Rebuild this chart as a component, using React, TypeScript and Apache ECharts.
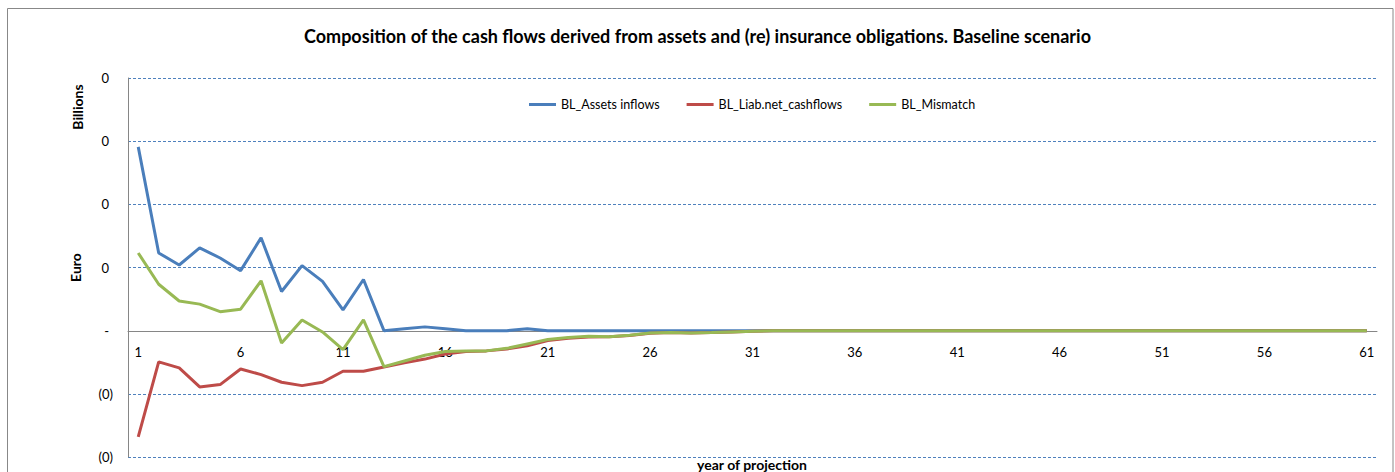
import React, { useEffect, useRef } from "react";
import * as echarts from "echarts";

const years: string[] = Array.from({ length: 61 }, (_, i) => String(i + 1));

const assetsInflows: number[] = [
  0.291, 0.123, 0.104, 0.131, 0.115, 0.095, 0.147, 0.062, 0.103, 0.078,
  0.033, 0.081, 0.0, 0.003, 0.006, 0.003, 0.0, 0.0, 0.0, 0.003,
  0.0, 0.0, 0.0, 0.0, 0.0, 0.0, 0.0, 0.0, 0.0, 0.0,
  0.0, 0.0, 0.0, 0.0, 0.0, 0.0, 0.0, 0.0, 0.0, 0.0,
  0.0, 0.0, 0.0, 0.0, 0.0, 0.0, 0.0, 0.0, 0.0, 0.0,
  0.0, 0.0, 0.0, 0.0, 0.0, 0.0, 0.0, 0.0, 0.0, 0.0,
  0.0,
];

const liabNetCashflows: number[] = [
  -0.168, -0.0495, -0.059, -0.089, -0.0854, -0.0606, -0.0696, -0.0817, -0.087, -0.0817,
  -0.0643, -0.0643, -0.0574, -0.051, -0.045, -0.037, -0.033, -0.032, -0.029, -0.024,
  -0.0155, -0.012, -0.01, -0.0095, -0.0075, -0.004, -0.003, -0.0035, -0.003, -0.002,
  -0.001, 0.0, 0.0, 0.0, 0.0, 0.0, 0.0, 0.0, 0.0, 0.0,
  0.0, 0.0, 0.0, 0.0, 0.0, 0.0, 0.0, 0.0, 0.0, 0.0,
  0.0, 0.0, 0.0, 0.0, 0.0, 0.0, 0.0, 0.0, 0.0, 0.0,
  0.0,
];

const mismatch: number[] = [
  0.123, 0.0735, 0.047, 0.042, 0.030, 0.034, 0.079, -0.0195, 0.017, -0.002,
  -0.030, 0.017, -0.057, -0.048, -0.039, -0.033, -0.032, -0.032, -0.028, -0.021,
  -0.014, -0.011, -0.009, -0.0095, -0.0074, -0.0037, -0.003, -0.0035, -0.003, -0.002,
  -0.001, 0.0, 0.0, 0.0, 0.0, 0.0, 0.0, 0.0, 0.0, 0.0,
  0.0, 0.0, 0.0, 0.0, 0.0, 0.0, 0.0, 0.0, 0.0, 0.0,
  0.0, 0.0, 0.0, 0.0, 0.0, 0.0, 0.0, 0.0, 0.0, 0.0,
  0.0,
];

const seriesNames: string[] = ["BL_Assets inflows", "BL_Liab.net_cashflows", "BL_Mismatch"];
const seriesColors: string[] = ["#4A7EBB", "#BE4B48", "#98B954"];

const FONT = "Lato, 'Open Sans', sans-serif";
const GRID_BLUE = "#4F81BD";

export default function App() {
  const ref = useRef<HTMLDivElement>(null);

  useEffect(() => {
    if (!ref.current) return;
    const chart = echarts.init(ref.current, undefined, { renderer: "svg" });
    const dataSets = [assetsInflows, liabNetCashflows, mismatch];
    chart.setOption({
      animation: false,
      backgroundColor: "#ffffff",
      textStyle: { fontFamily: FONT },
      title: {
        text: "Composition of the cash flows derived from assets and (re) insurance obligations. Baseline scenario",
        left: "center",
        top: 22,
        textStyle: { fontFamily: FONT, fontSize: 18, fontWeight: "bold", color: "#000" },
      },
      legend: {
        left: 524,
        top: 93,
        itemGap: 27,
        itemWidth: 27,
        itemHeight: 3,
        icon: "rect",
        textStyle: { fontFamily: FONT, fontSize: 12.5, color: "#000" },
        data: seriesNames,
      },
      grid: {
        left: 128,
        right: 18,
        top: 78,
        bottom: 15,
        containLabel: false,
        outerBoundsMode: "none",
      },
      xAxis: {
        type: "category",
        data: years,
        boundaryGap: true,
        position: "bottom",
        offset: -126,
        z: 1,
        axisLine: { onZero: false, lineStyle: { color: "#868686", width: 1 } },
        axisTick: { show: false },
        axisLabel: { interval: 4, margin: 14, fontSize: 13, color: "#000", fontFamily: FONT },
      },
      yAxis: {
        type: "value",
        min: -0.2,
        max: 0.4,
        interval: 0.1,
        name: "Euro",
        nameLocation: "middle",
        nameGap: 46,
        nameRotate: 90,
        nameTextStyle: { fontFamily: FONT, fontSize: 14, fontWeight: "bold", color: "#000" },
        axisLine: { show: true, lineStyle: { color: "#868686", width: 1 } },
        axisTick: { show: false },
        splitLine: {
          show: true,
          lineStyle: {
            color: [GRID_BLUE, GRID_BLUE, "rgba(0,0,0,0)", GRID_BLUE, GRID_BLUE, GRID_BLUE, GRID_BLUE],
            type: [3, 2],
            width: 1,
          },
        },
        axisLabel: {
          margin: 15,
          fontSize: 13,
          color: "#000",
          fontFamily: FONT,
          formatter: (v: number) => {
            if (Math.abs(v) < 1e-9) return "{p|-}";
            if (v < 0) return "(0)";
            return "{p|0}";
          },
          rich: {
            p: { fontSize: 13, color: "#000", fontFamily: FONT, padding: [0, 4, 0, 0] },
          },
        },
      },
      graphic: [
        {
          type: "rect",
          shape: { x: 7.5, y: 8.5, width: 1385.5, height: 480 },
          style: { fill: "none", stroke: "#888888", lineWidth: 1 },
          silent: true,
        },
        {
          type: "text",
          x: 77,
          y: 107,
          rotation: Math.PI / 2,
          style: {
            text: "Billions",
            fontFamily: FONT,
            fontSize: 14,
            fontWeight: "bold",
            fill: "#000",
            align: "center",
            verticalAlign: "middle",
          },
        },
        {
          type: "text",
          x: 752,
          y: 464,
          style: {
            text: "year of projection",
            fontFamily: FONT,
            fontSize: 14,
            fontWeight: "bold",
            fill: "#000",
            align: "center",
            verticalAlign: "middle",
          },
        },
      ],
      series: seriesNames.map((name, i) => ({
        name,
        type: "line",
        data: dataSets[i],
        symbol: "none",
        smooth: false,
        color: seriesColors[i],
        lineStyle: { color: seriesColors[i], width: 3 },
        z: 2 + i,
      })),
    });
    return () => chart.dispose();
  }, []);

  return (
    <div
      ref={ref}
      style={{ position: "absolute", left: 0, top: 0, width: 1395, height: 472 }}
    />
  );
}
